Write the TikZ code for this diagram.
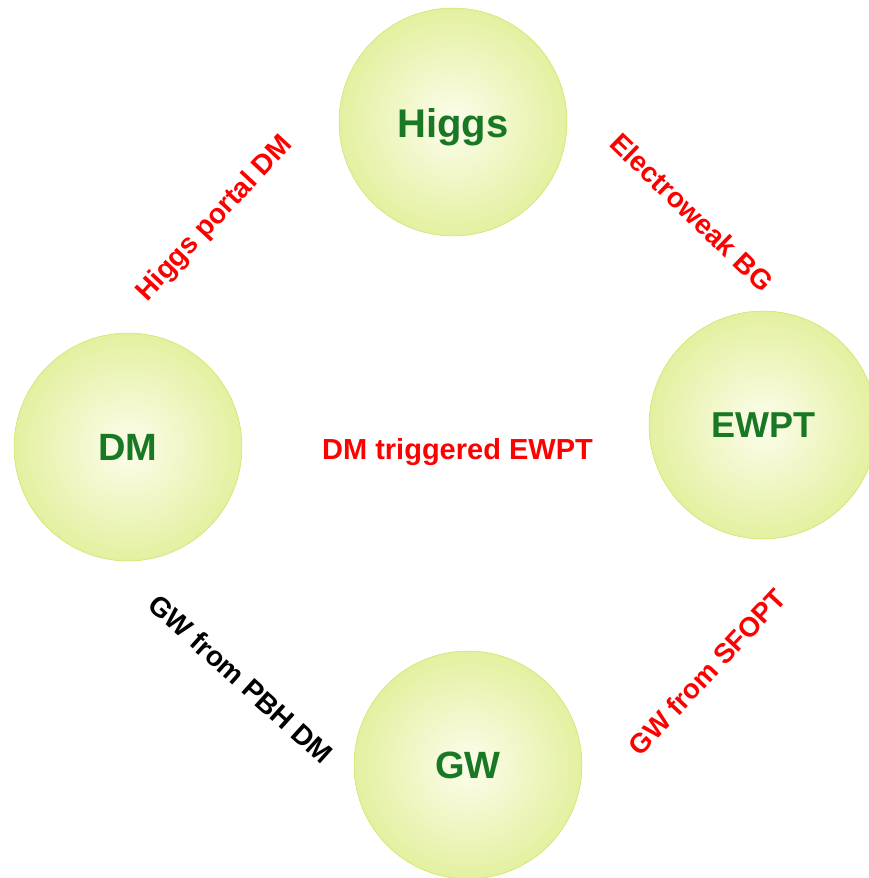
\documentclass[tikz,border=0pt]{standalone}
\usepackage{fontspec}
\setmainfont{Liberation Sans}

\definecolor{ballin}{RGB}{252,253,236}
\definecolor{ballmid}{RGB}{228,240,160}
\definecolor{ballout}{RGB}{212,231,104}
\definecolor{ballrim}{RGB}{206,226,98}
\definecolor{ballgreen}{RGB}{24,120,36}
\pgfdeclareradialshading{ballshade}{\pgfpoint{0bp}{0bp}}{color(0bp)=(ballin); color(25bp)=(ballmid); color(50bp)=(ballout); color(100bp)=(ballout)}

\tikzset{
  ball/.style={circle, minimum size=228pt, inner sep=0pt, shade, shading=ballshade,
    draw=ballrim, line width=0.5pt, text=ballgreen, text height=27pt, text depth=0pt,
    font=\bfseries\fontsize{38}{40}\selectfont},
  link/.style={red, inner sep=0pt, font=\bfseries\fontsize{28}{30}\selectfont}
}

\begin{document}
\begin{tikzpicture}[x=1pt,y=-1pt]
        \useasboundingbox (0,0) rectangle (869,878);

        % Sectors
        \node[ball, text height=30pt, font=\bfseries\fontsize{40}{42}\selectfont] (higgs) at (453,122) {Higgs};
        \node[ball, text height=25pt, font=\bfseries\fontsize{36}{38}\selectfont] (ewpt) at (763,425) {EWPT};
        \node[ball] (dm) at (128,447) {DM};
        \node[ball] (gw) at (468,765) {GW};

        % Links between them
        \node[link, rotate=47] (portal) at (215,219) {Higgs portal DM};
        \node[link, rotate=-44] (ewbg) at (692,212) {Electroweak BG};
        \node[link, rotate=47, font=\bfseries\fontsize{27.5}{30}\selectfont] (sfopt) at (707,672) {GW from SFOPT};
        \node[link, black, rotate=-42] (pbh) at (241,679) {GW from PBH DM};

        % Middle
        \node[link, font=\bfseries\fontsize{29}{31}\selectfont] (trig) at (457.5,452.5) {DM triggered EWPT};

    \end{tikzpicture}
\end{document}
